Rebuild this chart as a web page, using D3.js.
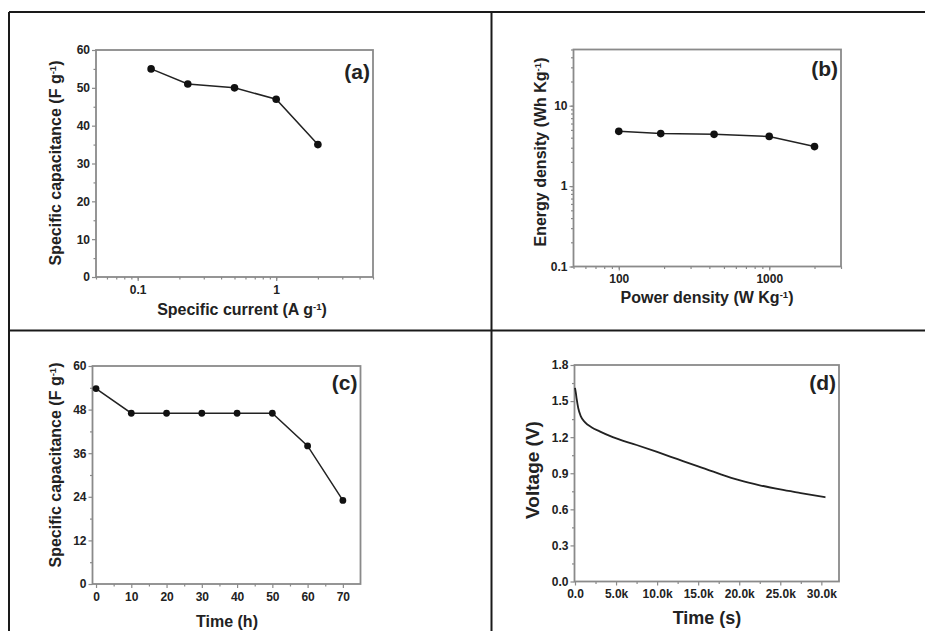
<!DOCTYPE html>
<html><head><meta charset="utf-8">
<script src="https://cdn.jsdelivr.net/npm/d3@7"></script>
<style>
html,body{margin:0;padding:0;background:#fff;}
text{font-family:"Liberation Sans",Arial,sans-serif;font-weight:bold;fill:#222;}
</style></head>
<body>
<svg id="chart" width="925" height="631"></svg>
<script>
// ---- data ----
const currentA = [0.125, 0.23, 0.5, 1, 2];
const capA = [55, 51, 50, 47, 35];
const powerB = [100, 190, 430, 1000, 2000];
const energyB = [4.8, 4.5, 4.4, 4.15, 3.1];
const timeC = [0, 10, 20, 30, 40, 50, 60, 70];
const capC = [53.8, 47, 47, 47, 47, 47, 38, 23];
const timeD = [0, 100, 200, 400, 700, 1200, 2000, 3000, 4600, 7500, 10000, 12500, 15000, 17600, 20000, 22500, 25000, 27500, 30500];
const voltD = [1.61, 1.57, 1.52, 1.44, 1.375, 1.325, 1.283, 1.248, 1.2, 1.135, 1.077, 1.017, 0.957, 0.895, 0.843, 0.8, 0.765, 0.735, 0.7];

const ticksAx = [0.1, 1];
const ticksAy = [0, 10, 20, 30, 40, 50, 60];
const ticksBx = [100, 1000];
const ticksBy = [0.1, 1, 10];
const ticksCx = [0, 10, 20, 30, 40, 50, 60, 70];
const ticksCy = [0, 12, 24, 36, 48, 60];
const ticksDx = [0, 5000, 10000, 15000, 20000, 25000, 30000];
const ticksDy = [0, 0.3, 0.6, 0.9, 1.2, 1.5, 1.8];

const svg = d3.select("#chart");
const frameCol = "#8a8a8a";
const ink = "#222";

// outer table lines
const border = svg.append("g").attr("stroke", "#1a1a1a").attr("stroke-width", 2);
border.append("line").attr("x1", 9).attr("x2", 925).attr("y1", 12).attr("y2", 12);
border.append("line").attr("x1", 9).attr("x2", 9).attr("y1", 12).attr("y2", 631);
border.append("line").attr("x1", 491.5).attr("x2", 491.5).attr("y1", 12).attr("y2", 631);
border.append("line").attr("x1", 9).attr("x2", 925).attr("y1", 330.5).attr("y2", 330.5);

function logMinor(lo, hi) {
  const out = [];
  for (let e = Math.floor(Math.log10(lo)); e <= Math.ceil(Math.log10(hi)); e++) {
    for (let m = 1; m < 10; m++) {
      const v = m * Math.pow(10, e);
      if (v >= lo * 0.999 && v <= hi * 1.001) out.push(v);
    }
  }
  return out;
}

function panel(o) {
  const g = svg.append("g");
  const x = o.x, y = o.y;
  const [x0, x1] = x.range(), [y1, y0] = y.range();
  g.append("rect").attr("x", x0).attr("y", y0).attr("width", x1 - x0).attr("height", y1 - y0)
    .attr("fill", "#fff").attr("stroke", frameCol).attr("stroke-width", 1.8);

  // minor ticks
  const gxm = g.append("g").attr("transform", `translate(0,${y1})`)
    .call(d3.axisBottom(x).tickValues(o.xMinor).tickSize(2.5).tickFormat(""));
  const gym = g.append("g").attr("transform", `translate(${x0},0)`)
    .call(d3.axisLeft(y).tickValues(o.yMinor).tickSize(2.5).tickFormat(""));
  // major ticks
  const gx = g.append("g").attr("transform", `translate(0,${y1})`)
    .call(d3.axisBottom(x).tickValues(o.xTicks).tickSize(4).tickPadding(4).tickFormat(o.xFmt));
  const gy = g.append("g").attr("transform", `translate(${x0},0)`)
    .call(d3.axisLeft(y).tickValues(o.yTicks).tickSize(4).tickPadding(2).tickFormat(o.yFmt));
  [gxm, gym, gx, gy].forEach(a => {
    a.select(".domain").remove();
    a.selectAll(".tick line").attr("stroke", frameCol).attr("stroke-width", 1.2);
    a.selectAll("text").style("font-size", "12px").style("font-family", "'Liberation Sans',Arial,sans-serif")
      .style("font-weight", "bold").attr("fill", ink);
  });

  // line + markers
  const line = d3.line().x(d => x(d[0])).y(d => y(d[1]));
  if (o.curve) line.curve(o.curve);
  const pts = o.xs.map((v, i) => [v, o.ys[i]]);
  g.append("path").datum(pts).attr("d", line).attr("fill", "none")
    .attr("stroke", ink).attr("stroke-width", o.lw || 1.5);
  if (o.markers) {
    g.selectAll("circle.m").data(pts).join("circle").attr("class", "m")
      .attr("cx", d => x(d[0])).attr("cy", d => y(d[1])).attr("r", o.r || 3.8).attr("fill", "#111");
  }

  // panel letter
  g.append("text").attr("x", x1 - 3).attr("y", o.letterY).attr("text-anchor", "end")
    .style("font-size", "21px").text(o.letter);

  // x title
  const xt = g.append("text").attr("x", o.xtX).attr("y", o.xtY).attr("text-anchor", "middle")
    .style("font-size", o.xtSize + "px");
  o.xTitle.forEach(p => {
    const t = xt.append("tspan").text(p[0]);
    if (p[1]) t.attr("baseline-shift", "super").style("font-size", (o.xtSize * 0.6) + "px");
  });
  // y title
  const yt = g.append("text").attr("transform", `translate(${o.ytX},${o.ytY}) rotate(-90)`)
    .attr("text-anchor", "middle").style("font-size", o.ytSize + "px");
  o.yTitle.forEach(p => {
    const t = yt.append("tspan").text(p[0]);
    if (p[1]) t.attr("baseline-shift", "super").style("font-size", (o.ytSize * 0.6) + "px");
  });
}

// (a)
panel({
  x: d3.scaleLog().domain([0.05, 5]).range([96, 373]),
  y: d3.scaleLinear().domain([0, 60]).range([277, 50]),
  xTicks: ticksAx, yTicks: ticksAy,
  xMinor: logMinor(0.05, 5), yMinor: d3.range(5, 60, 10),
  xFmt: d => String(d), yFmt: d => d,
  xs: currentA, ys: capA, markers: true,
  letter: "(a)", letterY: 79,
  xTitle: [["Specific current (A g"], ["-1", true], [")"]], xtX: 242, xtY: 315, xtSize: 16,
  yTitle: [["Specific capacitance (F g"], ["-1", true], [")"]], ytX: 61, ytY: 163, ytSize: 16
});

// (b)
panel({
  x: d3.scaleLog().domain([50, 3000]).range([573.5, 841]),
  y: d3.scaleLog().domain([0.1, 50]).range([266.5, 49.5]),
  xTicks: ticksBx, yTicks: ticksBy,
  xMinor: logMinor(50, 3000), yMinor: logMinor(0.1, 50),
  xFmt: d => String(d), yFmt: d => String(d),
  xs: powerB, ys: energyB, markers: true,
  letter: "(b)", letterY: 76,
  xTitle: [["Power density (W Kg"], ["-1", true], [")"]], xtX: 707, xtY: 303, xtSize: 16,
  yTitle: [["Energy density (Wh Kg"], ["-1", true], [")"]], ytX: 546, ytY: 152, ytSize: 16
});

// (c)
panel({
  x: d3.scaleLinear().domain([-1, 75]).range([92.5, 360.5]),
  y: d3.scaleLinear().domain([0, 60]).range([584, 366]),
  xTicks: ticksCx, yTicks: ticksCy,
  xMinor: d3.range(5, 75, 10), yMinor: d3.range(6, 60, 12),
  xFmt: d => d, yFmt: d => d,
  xs: timeC, ys: capC, markers: true, r: 3.4,
  letter: "(c)", letterY: 390,
  xTitle: [["Time (h)"]], xtX: 227, xtY: 627, xtSize: 16,
  yTitle: [["Specific capacitance (F g"], ["-1", true], [")"]], ytX: 61, ytY: 465, ytSize: 16
});

// (d)
panel({
  x: d3.scaleLinear().domain([-60, 32150]).range([574.5, 839]),
  y: d3.scaleLinear().domain([0, 1.8]).range([581.5, 365]),
  xTicks: ticksDx, yTicks: ticksDy,
  xMinor: d3.range(2500, 32000, 5000), yMinor: d3.range(0.15, 1.8, 0.3),
  xFmt: d => d === 0 ? "0.0" : (d / 1000).toFixed(1) + "k", yFmt: d => d.toFixed(1),
  xs: timeD, ys: voltD, markers: false, curve: d3.curveMonotoneX, lw: 1.8,
  letter: "(d)", letterY: 390,
  xTitle: [["Time (s)"]], xtX: 707, xtY: 624, xtSize: 18,
  yTitle: [["Voltage (V)"]], ytX: 539, ytY: 470, ytSize: 19
});
</script>
</body></html>
